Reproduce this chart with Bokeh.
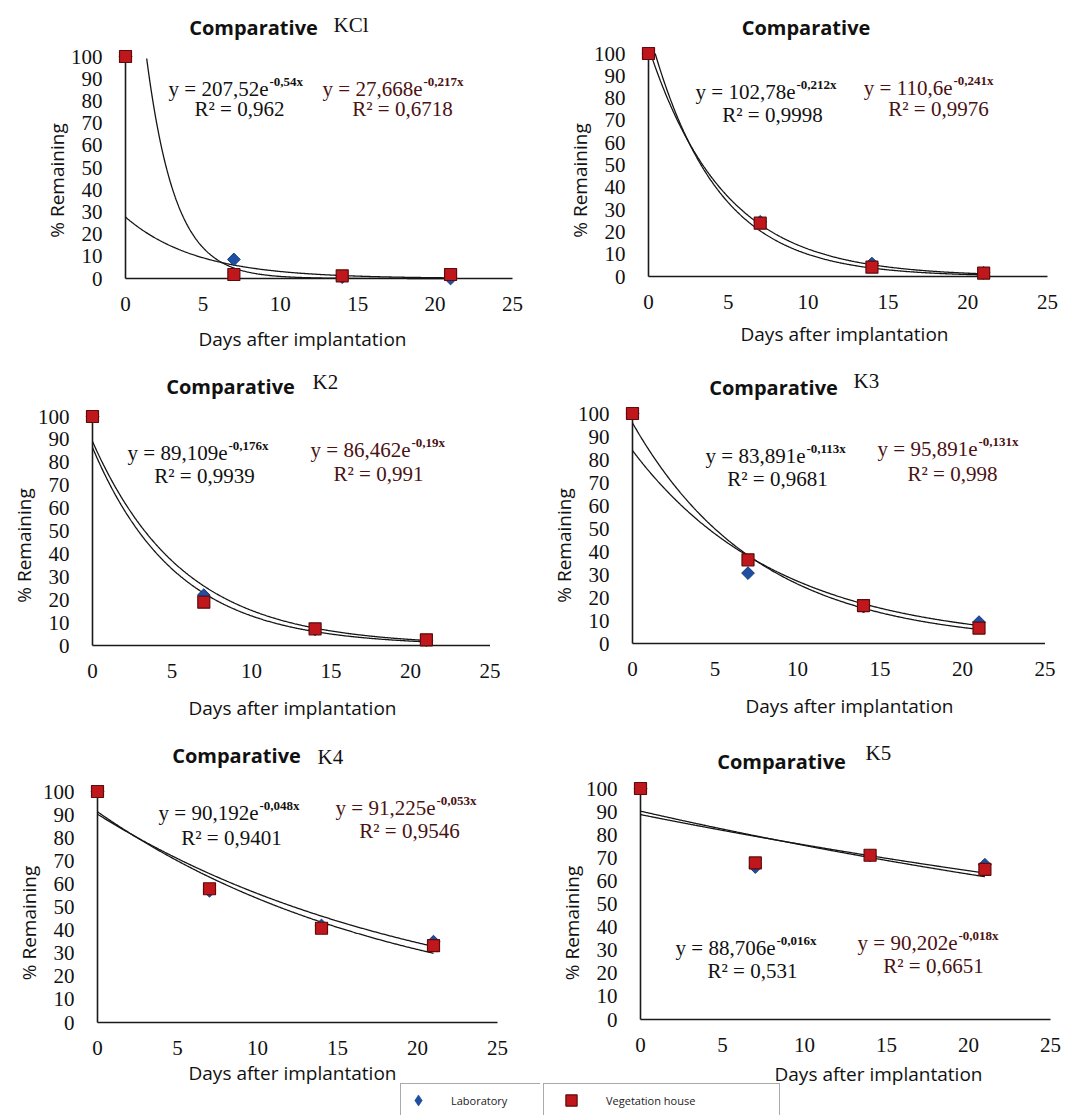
import numpy as np
from bokeh.plotting import figure
from bokeh.models import Range1d, FixedTicker, Label, Legend, LegendItem
from bokeh.layouts import column, row
from bokeh.embed import file_html
from bokeh.resources import INLINE

# ---------------- data ----------------
days = [0, 7, 14, 21]
x_ticks = [0, 5, 10, 15, 20, 25]
y_ticks = [0, 10, 20, 30, 40, 50, 60, 70, 80, 90, 100]

lab_kcl = [100, 8.6, 0.6, 0.0]
veg_kcl = [100, 1.8, 1.2, 1.8]
lab_k1 = [100, 24.5, 5.8, 1.6]
veg_k1 = [100, 23.9, 4.2, 1.5]
lab_k2 = [100, 22.0, 7.0, 2.3]
veg_k2 = [100, 18.9, 7.3, 2.5]
lab_k3 = [100, 30.6, 16.0, 9.3]
veg_k3 = [100, 36.4, 16.5, 6.7]
lab_k4 = [100, 57.0, 42.0, 35.0]
veg_k4 = [100, 57.9, 40.8, 33.3]
lab_k5 = [100, 66.0, 71.0, 67.0]
veg_k5 = [100, 67.8, 71.1, 65.0]

title_main = "Comparative"
title_suffix = ["KCl", "", "K2", "K3", "K4", "K5"]
lab_fit_a = [207.52, 102.78, 89.109, 83.891, 90.192, 88.706]
lab_fit_b = [-0.54, -0.212, -0.176, -0.113, -0.048, -0.016]
veg_fit_a = [27.668, 110.6, 86.462, 95.891, 91.225, 90.202]
veg_fit_b = [-0.217, -0.241, -0.19, -0.131, -0.053, -0.018]
lab_r2 = ["0,962", "0,9998", "0,9939", "0,9681", "0,9401", "0,531"]
veg_r2 = ["0,6718", "0,9976", "0,991", "0,998", "0,9546", "0,6651"]

lab_series = [lab_kcl, lab_k1, lab_k2, lab_k3, lab_k4, lab_k5]
veg_series = [veg_kcl, veg_k1, veg_k2, veg_k3, veg_k4, veg_k5]

x_label = "Days after implantation"
y_label = "% Remaining"
legend_labels = ["Laboratory", "Vegetation house"]

# ---------------- layout (page pixel measurements) ----------------
GEOM = [
    dict(fig=(0, 0, 540, 360), x0=125, x25=512, y0=278, y100=56,
         title=(253, 26.5), suffix=(333, 24), xlab=(302, 338),
         lab=(268, 88, 239, 108), veg=(422, 88, 402, 108)),
    dict(fig=(540, 0, 526, 360), x0=648, x25=1047, y0=276, y100=53,
         title=(805.5, 27), suffix=(0, 0), xlab=(844, 333),
         lab=(795, 91, 772, 114), veg=(952, 87, 938, 108)),
    dict(fig=(0, 360, 540, 370), x0=92, x25=489.5, y0=645, y100=416,
         title=(230, 386), suffix=(312, 381), xlab=(292, 707),
         lab=(227, 452, 204, 475), veg=(410, 449, 378, 473)),
    dict(fig=(540, 360, 526, 370), x0=632, x25=1044.5, y0=643, y100=413,
         title=(773, 387), suffix=(853, 380), xlab=(849, 705),
         lab=(805, 455, 777, 478), veg=(977, 448, 952, 473)),
    dict(fig=(0, 730, 540, 385), x0=97, x25=497, y0=1022, y100=791,
         title=(236, 755), suffix=(317, 756), xlab=(292, 1072),
         lab=(258, 812, 231, 837), veg=(435, 807, 409, 830)),
    dict(fig=(540, 730, 526, 385), x0=640, x25=1050, y0=1019, y100=788,
         title=(781, 761), suffix=(865, 752), xlab=(878, 1073),
         lab=(775, 947, 752, 970), veg=(957, 942, 933, 965)),
]

SERIF = "Liberation Serif"
SANS = "Open Sans"
LAB_FILL, LAB_LINE = "#1f4fa3", "#163a7a"
VEG_FILL, VEG_LINE = "#c0171d", "#5e0b0b"
EQ_LAB_COLOR = "#111111"
EQ_VEG_COLOR = "#4a1212"
INK = "#111111"


def fmt(v):
    return str(v).replace(".", ",")


def make_panel(i):
    g = GEOM[i]
    fx, fy, fw, fh = g["fig"]
    x0, x25, y0, y100 = g["x0"], g["x25"], g["y0"], g["y100"]
    sx = (x25 - x0) / 25.0
    sy = (y0 - y100) / 100.0

    def dx(px):
        return (px - x0) / sx

    def dy(py):
        return (y0 - py) / sy

    p = figure(width=fw, height=fh,
               x_range=Range1d(dx(fx), dx(fx + fw)), y_range=Range1d(dy(fy + fh), dy(fy)),
               min_border=0, output_backend="svg", toolbar_location=None)
    p.xgrid.visible = False
    p.ygrid.visible = False
    p.outline_line_color = None
    p.background_fill_color = "white"
    p.border_fill_color = "white"

    for ax in (p.xaxis[0], p.yaxis[0]):
        ax.fixed_location = 0
        ax.axis_line_color = None
        ax.major_tick_line_color = None
        ax.minor_tick_line_color = None
        ax.major_label_text_font = SERIF
        ax.major_label_text_font_size = "21px"
        ax.major_label_text_color = INK
        ax.axis_label_text_font = SANS
        ax.axis_label_text_font_size = "19px"
        ax.axis_label_text_font_style = "normal"
        ax.axis_label_text_color = INK
    p.xaxis.ticker = FixedTicker(ticks=x_ticks)
    p.yaxis.ticker = FixedTicker(ticks=y_ticks)
    p.xaxis.major_label_standoff = 12
    p.yaxis.major_label_standoff = 17
    p.yaxis.axis_label = y_label
    p.yaxis.axis_label_standoff = -2

    # axis lines (Excel style, ending at 0/25 and 0/100)
    p.segment(x0=[0, 0], y0=[0, 0], x1=[x_ticks[-1], 0], y1=[0, y_ticks[-1]],
              line_color="#1a1a1a", line_width=1.6)

    # trend lines
    xs = np.linspace(days[0], days[-1], 400)
    for a, b in ((lab_fit_a[i], lab_fit_b[i]), (veg_fit_a[i], veg_fit_b[i])):
        ys = a * np.exp(b * xs)
        m = ys <= 100
        p.line(xs[m], ys[m], line_color="#151515", line_width=1.3)

    # points
    p.scatter(days, lab_series[i], marker="square", angle=np.pi / 4, size=9,
              fill_color=LAB_FILL, line_color=LAB_LINE, line_width=1)
    r_lab_key = p.scatter(days, lab_series[i], marker="diamond", size=0,
                          fill_color=LAB_FILL, line_color=LAB_LINE, line_width=0.5)
    r_veg = p.scatter(days, veg_series[i], marker="square", size=12,
                      fill_color=VEG_FILL, line_color=VEG_LINE, line_width=1.2)

    # titles
    tx, ty = g["title"]
    p.add_layout(Label(x=dx(tx), y=dy(ty), text=title_main, text_font=SANS,
                       text_font_size="20px", text_font_style="bold", text_color=INK,
                       text_align="center", text_baseline="middle"))
    if title_suffix[i]:
        kx, ky = g["suffix"]
        p.add_layout(Label(x=dx(kx), y=dy(ky), text=title_suffix[i], text_font=SERIF,
                           text_font_size="21px", text_color=INK,
                           text_align="left", text_baseline="middle"))

    # x axis title
    lx, ly = g["xlab"]
    p.add_layout(Label(x=dx(lx), y=dy(ly), text=x_label, text_font=SANS,
                       text_font_size="19px", text_color=INK,
                       text_align="center", text_baseline="middle"))

    # equations
    for key, a, b, r2, col in (("lab", lab_fit_a[i], lab_fit_b[i], lab_r2[i], EQ_LAB_COLOR),
                               ("veg", veg_fit_a[i], veg_fit_b[i], veg_r2[i], EQ_VEG_COLOR)):
        jx, jy, rx, ry = g[key]
        p.add_layout(Label(x=dx(jx), y=dy(jy), text="y = " + fmt(a) + "e", text_font=SERIF,
                           text_font_size="21px", text_color=col,
                           text_align="right", text_baseline="middle"))
        p.add_layout(Label(x=dx(jx + 1), y=dy(jy - 7), text=fmt(b) + "x", text_font=SERIF,
                           text_font_size="13px", text_font_style="bold", text_color=col,
                           text_align="left", text_baseline="middle"))
        p.add_layout(Label(x=dx(rx), y=dy(ry), text="R\u00b2 = " + r2, text_font=SERIF,
                           text_font_size="21px", text_color=col,
                           text_align="center", text_baseline="middle"))

    # legend (split across the two bottom panels, as in the original)
    if i == 4:
        p.add_layout(Legend(items=[LegendItem(label=legend_labels[0], renderers=[r_lab_key])],
                            location=(400, -2), orientation="horizontal",
                            glyph_height=28, glyph_width=30, label_standoff=18,
                            label_width=91, padding=2, margin=0,
                            label_text_font=SANS, label_text_font_size="11px",
                            label_text_color="#222222", border_line_color="#555555",
                            border_line_width=1, background_fill_color="white",
                            background_fill_alpha=1.0))
    if i == 5:
        p.add_layout(Legend(items=[LegendItem(label=legend_labels[1], renderers=[r_veg])],
                            location=(3, -2), orientation="horizontal",
                            glyph_height=28, glyph_width=50, label_standoff=10,
                            label_width=171, padding=2, margin=0,
                            label_text_font=SANS, label_text_font_size="11px",
                            label_text_color="#222222", border_line_color="#555555",
                            border_line_width=1, background_fill_color="white",
                            background_fill_alpha=1.0))
    return p


panels = [make_panel(i) for i in range(6)]

layout = column(row(panels[0], panels[1]), row(panels[2], panels[3]),
                row(panels[4], panels[5]))

open("out.html", "w").write(file_html(layout, INLINE))
